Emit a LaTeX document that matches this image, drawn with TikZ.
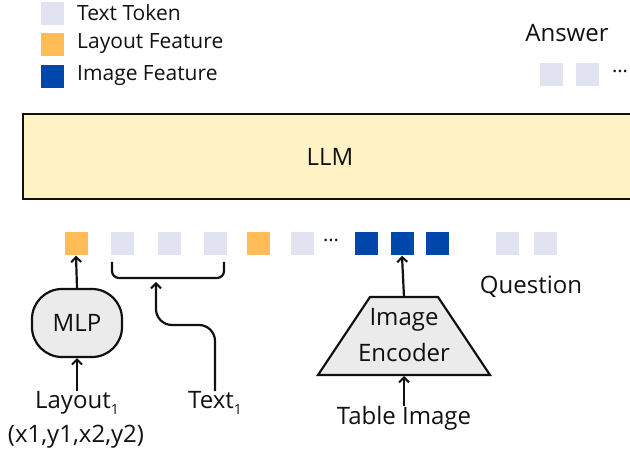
\documentclass[tikz,border=0pt]{standalone}
\usepackage{fontspec}
\setmainfont{Open Sans}
\usetikzlibrary{arrows.meta}
\definecolor{tokL}{HTML}{E1E3F1}
\definecolor{tokO}{HTML}{FFBC57}
\definecolor{tokB}{HTML}{0047AB}
\definecolor{llmY}{HTML}{FFF3C6}
\definecolor{boxG}{HTML}{EBEBEB}
\definecolor{ink}{HTML}{111111}
\newcommand{\sbone}{\raisebox{-0.25em}{\fontsize{14}{14}\selectfont 1}}
\begin{document}
\begin{tikzpicture}[x=1pt,y=-1pt,
  tok/.style={minimum size=23pt, inner sep=0pt, draw=none},
  tl/.style={tok, fill=tokL},
  to/.style={tok, fill=tokO},
  tb/.style={tok, fill=tokB},
  lbl/.style={text=ink, font=\fontsize{24}{28}\selectfont, inner sep=0pt},
  leg/.style={text=ink, font=\fontsize{21}{24}\selectfont, inner sep=0pt, anchor=west},
  arr/.style={draw=ink, line width=2.2pt, -{Straight Barb[length=5pt,width=10pt,line width=2pt]}},
  ln/.style={draw=ink, line width=2.2pt}]
\useasboundingbox (0,0) rectangle (630,454);
\clip (0,0) rectangle (630,454);
% legend
\node[tl] (lg1) at (52.5,14) {};
\node[to] (lg2) at (52.5,44.5) {};
\node[tb] (lg3) at (52.5,76.5) {};
\node[leg] (lt1) at (77,13) {Text Token};
\node[leg] (lt2) at (77,44) {Layout Feature};
\node[leg] (lt3) at (77,76) {Image Feature};
% answer
\node[lbl] (ans) at (567,33) {Answer};
\node[tl] (a1) at (551.5,75) {};
\node[tl] (a2) at (587.5,75) {};
\node[text=ink, font=\fontsize{20}{24}\selectfont, inner sep=0pt] (adots) at (620,71) {...};
% LLM
\node[draw=ink, line width=1.8pt, fill=llmY, minimum width=618pt, minimum height=85pt, anchor=north west, inner sep=0pt] (llm) at (22,113) {};
\node[lbl] (llmt) at (330,157) {LLM};
% token row
\node[to] (t1) at (76,244) {};
\node[tl] (t2) at (122.5,244) {};
\node[tl] (t3) at (169,244) {};
\node[tl] (t4) at (215.5,244) {};
\node[to] (t5) at (258.5,244) {};
\node[tl] (t6) at (302,244) {};
\node[text=ink, font=\fontsize{20}{24}\selectfont, inner sep=0pt] (rdots) at (331,240) {...};
\node[tb] (t7) at (366.5,244) {};
\node[tb] (t8) at (402,244) {};
\node[tb] (t9) at (437.5,244) {};
\node[tl] (t10) at (507.5,244) {};
\node[tl] (t11) at (545,244) {};
\node[lbl] (q) at (531,287) {Question};
% MLP branch
\node[draw=ink, line width=2.2pt, fill=boxG, rounded corners=30pt, minimum width=90pt, minimum height=68pt, inner sep=0pt, text=ink, font=\fontsize{24}{28}\selectfont] (mlp) at (77,323) {MLP};
\node[lbl] (lay) at (77,403) {Layout\sbone};
\node[lbl] (xy) at (76,437) {(x1,y1,x2,y2)};
\draw[arr] (lay.north) -- (mlp.south);
\draw[arr] (mlp.north) -- (t1.south);
% text branch
\coordinate (bl) at (112,262);
\coordinate (br) at (224,262);
\coordinate (bm) at (156,282);
\draw[ln, rounded corners=7pt] (bl) -- (112,278) -- (224,278) -- (br);
\node[lbl] (txt) at (215,403) {Text\sbone};
\draw[arr, rounded corners=16pt] (txt.north) -- (215,325) -- (156,325) -- (bm);
% image encoder
\coordinate (et) at (404,297);
\coordinate (eb) at (404,376);
\draw[ln, fill=boxG, line join=miter] (370,297) -- (438,297) -- (490,375) -- (318,375) -- cycle;
\node[lbl] (enc1) at (404,320) {Image};
\node[lbl] (enc2) at (404,353) {Encoder};
\draw[arr] (et) -- (t8.south);
\node[lbl] (timg) at (404,418) {Table Image};
\draw[arr] (timg.north) -- (eb);
\end{tikzpicture}
\end{document}
